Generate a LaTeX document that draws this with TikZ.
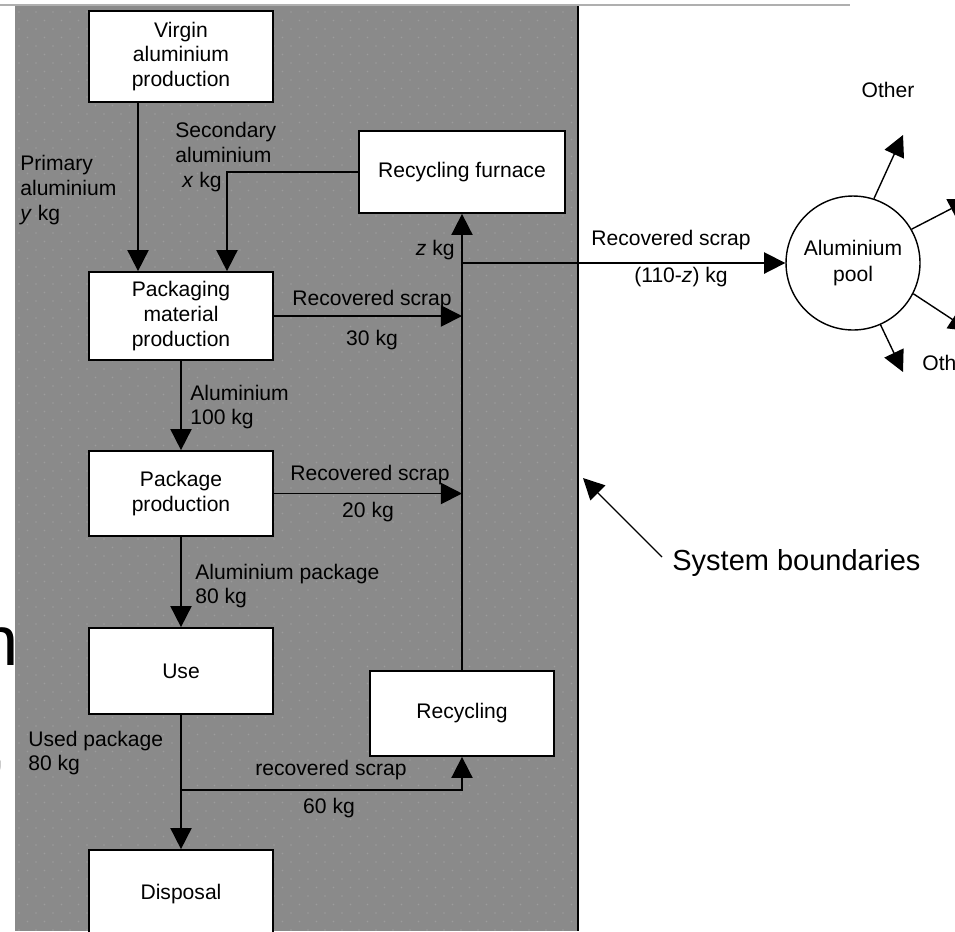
\documentclass[tikz,border=0pt]{standalone}
\usepackage{fontspec}
\setmainfont{Liberation Sans}
\usetikzlibrary{arrows.meta}
\definecolor{bggray}{RGB}{138,138,138}
\definecolor{dotgray}{RGB}{156,156,156}
\definecolor{rulegray}{RGB}{175,175,175}
\tikzset{>={Triangle[width=12pt,length=12pt]}}
\tikzset{box/.style={draw, fill=white, line width=1pt, align=center, font=\fontsize{12}{14}\selectfont, inner sep=0pt}}
\tikzset{lbl/.style={align=left, inner sep=0pt, font=\fontsize{12}{14}\selectfont}}
\tikzset{flow/.style={->, line width=1pt}}

\begin{document}
\begin{tikzpicture}[x=0.02cm, y=-0.02cm]
    \useasboundingbox (0,0) rectangle (955,931);
    \fill[bggray] (15,6) rectangle (578,931);
    \foreach \r in {0,...,108}
        \foreach \c in {0,...,32}
            \fill[dotgray] ({19+8.5*mod(\r,2)+17*\c},{12+8.5*\r}) circle (0.5pt);
    \draw[rulegray, line width=0.8pt] (0,5) -- (850,5);
    \coordinate (bt) at (578,6);
    \coordinate (bb) at (578,931);
    \draw[line width=1.2pt] (bt) -- (bb);

    \node[box, minimum width=3.68cm, minimum height=1.82cm] (virgin) at (181,56.5) {Virgin\\aluminium\\production};
    \node[box, minimum width=3.68cm, minimum height=1.76cm] (pack) at (181,316) {Packaging\\material\\production};
    \node[box, minimum width=3.68cm, minimum height=1.70cm] (prod) at (181,493.5) {Package\\production};
    \node[box, minimum width=3.68cm, minimum height=1.72cm] (use) at (181,671) {Use};
    \node[box, minimum width=3.68cm, minimum height=1.76cm] (disp) at (181,894) {Disposal};
    \node[box, minimum width=4.12cm, minimum height=1.64cm] (furn) at (462,172) {Recycling furnace};
    \node[box, minimum width=3.68cm, minimum height=1.70cm] (recyc) at (462,713.5) {Recycling};
    \node[circle, draw, line width=0.8pt, fill=white, minimum size=2.68cm, inner sep=0pt, align=center, font=\fontsize{12}{15.3}\selectfont] (pool) at (853,263) {Aluminium\\pool};

    \draw[flow] ([xshift=-0.86cm]virgin.south) -- ([xshift=-0.86cm]pack.north);
    \draw[flow] (furn.west) -| ([xshift=0.92cm]pack.north);
    \draw[flow] (pack) -- (prod);
    \draw[flow] (prod) -- (use);
    \draw[flow] (use) -- (disp);
    \coordinate (split) at (181,790);
    \draw[flow] (split) -| (recyc.south);
    \draw[flow] (recyc) -- (furn);
    \draw[flow] (pack.east) -- (pack.east -| recyc.north);
    \draw[flow] (prod.east) -- (prod.east -| recyc.north);
    \coordinate (jn) at (462,263);
    \draw[flow] (jn) -- (pool.west);

    \node[lbl, anchor=west] (lprim) at (20,190) {Primary\\aluminium\\\textit{y} kg};
    \node[lbl, anchor=west] (lsec) at (175,157) {Secondary\\aluminium\\\hspace*{0.14cm}\textit{x} kg};
    \node[lbl, anchor=east] (lz) at (455,250) {\textit{z} kg};
    \node[lbl] (lout) at (671,240) {Recovered scrap};
    \node[lbl] (lout2) at (681,277) {(110-\textit{z}) kg};
    \node[lbl] (l30a) at (372,300) {Recovered scrap};
    \node[lbl] (l30b) at (372,340) {30 kg};
    \node[lbl] (l20a) at (370,475) {Recovered scrap};
    \node[lbl] (l20b) at (368,512) {20 kg};
    \node[lbl, anchor=west] (l100) at (190,407) {Aluminium\\100 kg};
    \node[lbl, anchor=west] (lpkg) at (195,586) {Aluminium package\\80 kg};
    \node[lbl, anchor=west] (lused) at (28,753) {Used package\\80 kg};
    \node[lbl] (l60a) at (331,770) {recovered scrap};
    \node[lbl] (l60b) at (329,808) {60 kg};

    \coordinate (o1) at (903,135);
    \coordinate (o2) at (970,199);
    \coordinate (o3) at (970,331);
    \coordinate (o4) at (903,372);
    \draw[flow, line width=0.8pt] (pool.72) -- (o1);
    \draw[flow, line width=0.8pt] (pool.30) -- (o2);
    \draw[flow, line width=0.8pt] (pool.-27) -- (o3);
    \draw[flow, line width=0.8pt] (pool.-66) -- (o4);
    \node[lbl] (oth1) at (888,90) {Other};
    \node[lbl, anchor=west] (oth2) at (922,363) {Oth};

    \node[lbl, font=\fontsize{16.5}{18}\selectfont, anchor=west] (sysb) at (672,563) {System boundaries};
    \coordinate (bnd) at (583,478);
    \draw[->, line width=0.7pt] ([shift={(-0.2cm,0.12cm)}]sysb.west) -- (bnd);

    \node[anchor=base east, inner sep=0pt, font=\fontsize{40}{40}\selectfont] (frag1) at (19,665) {n};
    \node[anchor=base east, inner sep=0pt, font=\fontsize{40}{40}\selectfont] (frag2) at (7,768) {,};
\end{tikzpicture}
\end{document}
